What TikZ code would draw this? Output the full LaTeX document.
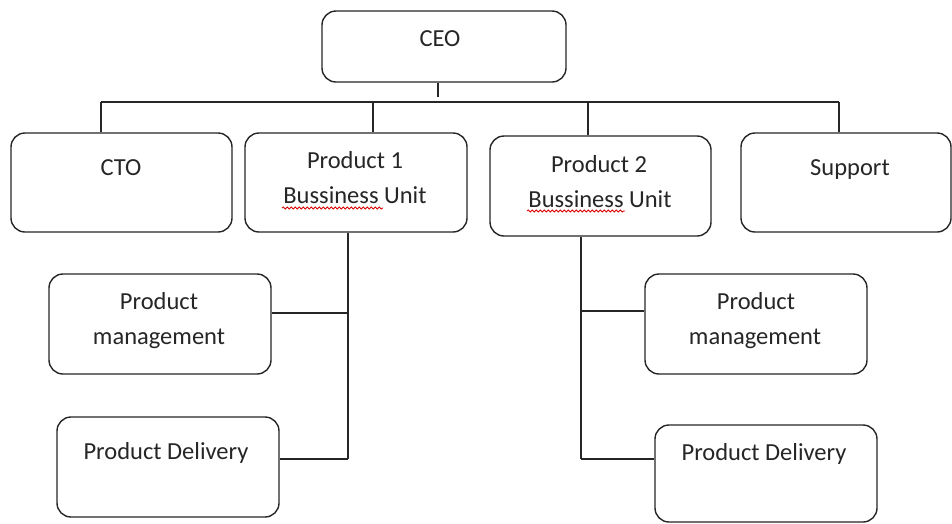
\documentclass[tikz,border=0pt]{standalone}
\usepackage{fontspec}
\setmainfont{Carlito}
\usetikzlibrary{decorations.pathmorphing}
\definecolor{ink}{HTML}{262626}
\tikzset{
  box/.style={draw=ink, line width=1.4pt, rounded corners=14pt, inner sep=0pt, fill=white},
  lbl/.style={anchor=base, inner sep=0pt, text=ink, font=\fontsize{24.5}{29}\selectfont},
  link/.style={draw=ink, line width=1.4pt},
  spell/.style={draw=red!85!black, line width=0.8pt, decorate, decoration={snake, amplitude=1.1pt, segment length=4pt}}
}
\begin{document}
\begin{tikzpicture}[x=1pt,y=-1pt]
\useasboundingbox (0,0) rectangle (952,523);
% boxes
\node[box, minimum width=244pt, minimum height=71pt] (ceo) at (444,46.5) {};
\node[box, minimum width=221pt, minimum height=99pt] (cto) at (121.5,182.5) {};
\node[box, minimum width=222pt, minimum height=99pt] (p1) at (356,182.5) {};
\node[box, minimum width=221pt, minimum height=100pt] (p2) at (600.5,186) {};
\node[box, minimum width=210pt, minimum height=99pt] (sup) at (846,182.5) {};
\node[box, minimum width=222pt, minimum height=100pt] (lpm) at (160,324) {};
\node[box, minimum width=222pt, minimum height=100pt] (lpd) at (168,467) {};
\node[box, minimum width=222pt, minimum height=100pt] (rpm) at (756,324) {};
\node[box, minimum width=222pt, minimum height=97pt] (rpd) at (766,473.5) {};
% texts
\node[lbl] (tceo) at (440,46) {CEO};
\node[lbl] (tcto) at (121,175) {CTO};
\node[lbl] (tp1a) at (355,168) {Product 1};
\node[lbl] (tp1b) at (355,203) {Bussiness Unit};
\node[lbl] (tp2a) at (599,172) {Product 2};
\node[lbl] (tp2b) at (600,207) {Bussiness Unit};
\node[lbl] (tsup) at (850,175) {Support};
\node[lbl] (tlpma) at (159,309) {Product};
\node[lbl] (tlpmb) at (159,344) {management};
\node[lbl] (tlpd) at (166,459) {Product Delivery};
\node[lbl] (trpma) at (756,309) {Product};
\node[lbl] (trpmb) at (755,344) {management};
\node[lbl] (trpd) at (764,460) {Product Delivery};
% spell-check underlines
\draw[spell] (282,208) -- (383,208);
\draw[spell] (527,211) -- (625,211);
% junction coordinates
\coordinate (ceoend) at (438,97);
\coordinate (barL) at (101,102);
\coordinate (barR) at (839,102);
\coordinate (j1) at (373,102);
\coordinate (j2) at (588,102);
\coordinate (j3) at (347,313);
\coordinate (j4) at (348,459);
\coordinate (j5) at (580,311);
\coordinate (j6) at (581,459);
% connectors
\draw[link] (ceoend |- ceo.south) -- (ceoend);
\draw[link] (barL) -- (barR);
\draw[link] (barL) -- (barL |- cto.north);
\draw[link] (j1) -- (j1 |- p1.north);
\draw[link] (j2) -- (j2 |- p2.north);
\draw[link] (barR) -- (barR |- sup.north);
\draw[link] (j4 |- p1.south) -- (j4);
\draw[link] (j3 -| lpm.east) -- (j3);
\draw[link] (j4 -| lpd.east) -- (j4);
\draw[link] (j6 |- p2.south) -- (j6);
\draw[link] (j5) -- (j5 -| rpm.west);
\draw[link] (j6) -- (j6 -| rpd.west);
\end{tikzpicture}
\end{document}
